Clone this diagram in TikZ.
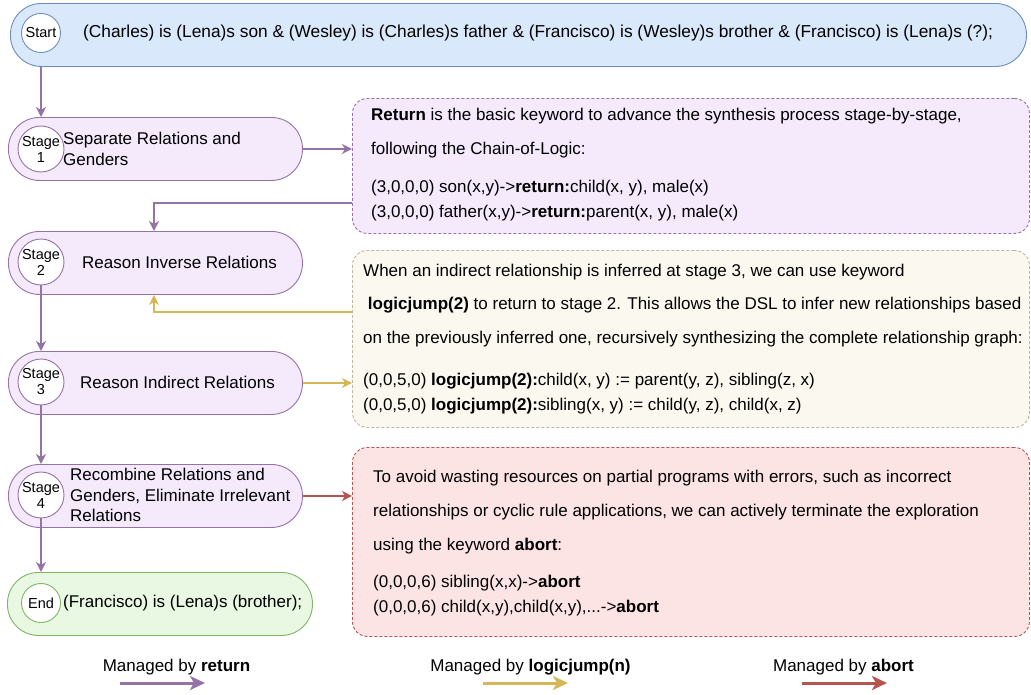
\documentclass[tikz,border=0pt]{standalone}
\usepackage{fontspec}
\setmainfont{Liberation Sans}
\usetikzlibrary{arrows.meta}
\definecolor{pstroke}{HTML}{9673A6}
\definecolor{pfill}{HTML}{F5E9FC}
\definecolor{bstroke}{HTML}{6C8EBF}
\definecolor{bfill}{HTML}{DAE8FC}
\definecolor{gstroke}{HTML}{82B366}
\definecolor{gfill}{HTML}{E8F8E2}
\definecolor{ystroke}{HTML}{D6B656}
\definecolor{yfill}{HTML}{FAF8EF}
\definecolor{ybord}{HTML}{BDB6A0}
\definecolor{rstroke}{HTML}{B85450}
\definecolor{rfill}{HTML}{FDE4E4}
\tikzset{
  pill/.style={draw=#1, line width=0.9pt, rounded corners=31pt, minimum height=63pt, anchor=north west, inner sep=0pt},
  circ/.style={circle, draw=#1, fill=white, line width=0.9pt, minimum size=39pt, inner sep=0pt, align=center, font=\fontsize{14.5}{16}\selectfont},
  rbox/.style={draw=#1, line width=0.9pt, dash pattern=on 3pt off 2pt, rounded corners=15pt, anchor=north west, inner sep=0pt},
  ltext/.style={anchor=west, align=left, inner sep=0pt, font=\fontsize{17}{20.5}\selectfont},
  rtext/.style={anchor=west, align=left, inner sep=0pt, font=\fontsize{17}{25}\selectfont},
  conn/.style={draw=#1, line width=2pt, -{Stealth[length=10pt,width=10pt,inset=3pt]}},
  legarrow/.style={draw=#1, line width=3pt, -{Stealth[length=15pt,width=14pt,inset=4pt]}},
  legtext/.style={inner sep=0pt, font=\fontsize{17}{20}\selectfont},
}
\begin{document}
\begin{tikzpicture}[x=1pt,y=-1pt]
\useasboundingbox (0,0) rectangle (1031,694);

% start
\node[pill=bstroke, fill=bfill, minimum width=1016pt] (start) at (10,3) {};
\node[circ=bstroke] (c0) at (41,33) {Start};
\node[ltext, font=\fontsize{17.3}{20}\selectfont] (t0) at (83,33) {(Charles) is (Lena)s son \& (Wesley) is (Charles)s father \& (Francisco) is (Wesley)s brother \& (Francisco) is (Lena)s (?);};

% stage 1
\node[pill=pstroke, fill=pfill, minimum width=294pt] (s1) at (8,117) {};
\node[circ=pstroke] (c1) at (41,149) {Stage\\1};
\node[ltext] (t1) at (63,149) {Separate Relations and\\Genders};

% stage 2
\node[pill=pstroke, fill=pfill, minimum width=294pt] (s2) at (8,231) {};
\node[circ=pstroke] (c2) at (41,262) {Stage\\2};
\node[ltext] (t2) at (82,262) {Reason Inverse Relations};

% stage 3
\node[pill=pstroke, fill=pfill, minimum width=294pt] (s3) at (8,351) {};
\node[circ=pstroke] (c3) at (41,382) {Stage\\3};
\node[ltext] (t3) at (80,382) {Reason Indirect Relations};

% stage 4
\node[pill=pstroke, fill=pfill, minimum width=294pt] (s4) at (8,464) {};
\node[circ=pstroke] (c4) at (41,495) {Stage\\4};
\node[ltext] (t4) at (70,495) {Recombine Relations and\\Genders, Eliminate Irrelevant\\Relations};

% end
\node[pill=gstroke, fill=gfill, minimum width=305pt] (s5) at (7,572) {};
\node[circ=gstroke] (c5) at (41,603) {End};
\node[ltext] (t5) at (63,603) {(Francisco) is (Lena)s (brother);};

% right boxes
\node[rbox=pstroke, fill=pfill, minimum width=677pt, minimum height=135pt] (r1) at (352,98) {};
\node[rtext] (rt1) at (371,165) {\textbf{Return} is the basic keyword to advance the synthesis process stage-by-stage,\\[9pt]
following the Chain-of-Logic:\\[13pt]
(3,0,0,0) son(x,y)->\textbf{return:}child(x, y), male(x)\\
(3,0,0,0) father(x,y)->\textbf{return:}parent(x, y), male(x)};

\node[rbox=ybord, fill=yfill, minimum width=677pt, minimum height=177pt] (r2) at (352,250) {};
\node[rtext] (rt2) at (363,339) {When an indirect relationship is inferred at stage 3, we can use keyword\\[8pt]
\ \textbf{logicjump(2)} to return to stage 2. This allows the DSL to infer new relationships based\\[9pt]
on the previously inferred one, recursively synthesizing the complete relationship graph:\\[17pt]
(0,0,5,0) \textbf{logicjump(2):}child(x, y) := parent(y, z), sibling(z, x)\\
(0,0,5,0) \textbf{logicjump(2):}sibling(x, y) := child(y, z), child(x, z)};

\node[rbox=rstroke, fill=rfill, minimum width=677pt, minimum height=189pt] (r3) at (352,447) {};
\node[rtext] (rt3) at (373,543) {To avoid wasting resources on partial programs with errors, such as incorrect\\[9pt]
relationships or cyclic rule applications, we can actively terminate the exploration\\[9pt]
using the keyword \textbf{abort}:\\[12pt]
(0,0,0,6) sibling(x,x)->\textbf{abort}\\
(0,0,0,6) child(x,y),child(x,y),...->\textbf{abort}};

% connectors
\draw[conn=pstroke] (start.south -| c0) -- (s1.north -| c0);
\draw[conn=pstroke] (s1.east) -- (r1.west |- s1.east);
\coordinate (j1) at (154,203);
\draw[conn=pstroke] (r1.west |- j1) -| (s2.north -| j1);
\coordinate (j2) at (154,312);
\draw[conn=ystroke] (r2.west |- j2) -| (s2.south -| j2);
\draw[conn=pstroke] (c2.south) -- (s3.north -| c2.south);
\draw[conn=ystroke] (s3.east) -- (r2.west |- s3.east);
\draw[conn=pstroke] (c3.south) -- (s4.north -| c3.south);
\draw[conn=rstroke] (s4.east) -- (r3.west |- s4.east);
\draw[conn=pstroke] (c4.south) -- (s5.north -| c4.south);

% legend
\node[legtext] (l1) at (176.5,667) {Managed by \textbf{return}};
\coordinate (l1a) at (120,683); \coordinate (l1b) at (205,683);
\draw[legarrow=pstroke] (l1a) -- (l1b);
\node[legtext] (l2) at (530.5,667) {Managed by \textbf{logicjump(n)}};
\coordinate (l2a) at (483,683); \coordinate (l2b) at (568,683);
\draw[legarrow=ystroke] (l2a) -- (l2b);
\node[legtext] (l3) at (843.5,667) {Managed by \textbf{abort}};
\coordinate (l3a) at (802,683); \coordinate (l3b) at (887,683);
\draw[legarrow=rstroke] (l3a) -- (l3b);
\end{tikzpicture}
\end{document}
